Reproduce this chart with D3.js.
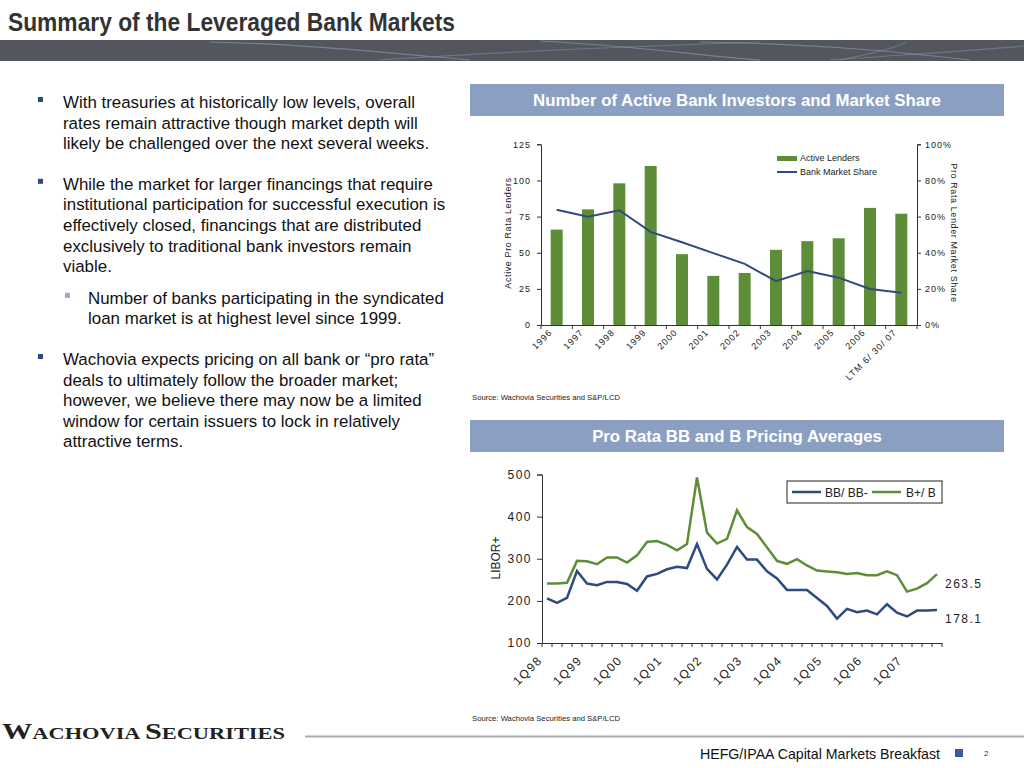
<!DOCTYPE html>
<meta charset="utf-8">
<style>
body{margin:0;background:#fff;}
text{font-family:Arial,"Liberation Sans",sans-serif;}
.bul{font-size:16.9px;fill:#111;}
.tick text{font-size:9px;fill:#222;letter-spacing:1px;}
.lc .tick text{font-size:12px;letter-spacing:1.5px;}
.domain,.tick line{stroke:#333;}
.banner{font-size:16.8px;font-weight:bold;fill:#fff;text-anchor:middle;}
.src{font-size:8px;fill:#222;}
</style>
<body>
<script src="https://d3js.org/d3.v7.min.js"></script>
<script>

// bank investors chart
var years=["1996","1997","1998","1999","2000","2001","2002","2003","2004","2005","2006","LTM 6/ 30/ 07"];
var lenders=[66,80,98,110,49,34,36,52,58,60,81,77];
var share=[0.638,0.599,0.635,0.515,0.458,0.398,0.338,0.243,0.299,0.262,0.199,0.179];

// pricing chart
var quarters=[];
["98","99","00","01","02","03","04","05","06","07"].forEach(function(y){
	[1,2,3,4].forEach(function(q){ quarters.push(q+"Q"+y); });
});
var bbSeries=[206,195,207,271,241,237,245,245,240,224,258,264,275,281,278,335,276,251,286,328,298,298,270,253,226,226,226,207,188,158,181,173,177,168,192,172,163,177,177,178.1];
var bSeries=[241,241,243,295,294,287,303,303,291,308,340,342,333,320,335,493,362,336,347,415,375,359,327,295,288,299,284,272,270,268,264,266,261,261,270,261,222,229,242,263.5];

var bulletLines=[
	{t:"With treasuries at historically low levels, overall",b:1},
	{t:"rates remain attractive though market depth will"},
	{t:"likely be challenged over the next several weeks."},
	{t:"While the market for larger financings that require",b:1,gap:20},
	{t:"institutional participation for successful execution is"},
	{t:"effectively closed, financings that are distributed"},
	{t:"exclusively to traditional bank investors remain"},
	{t:"viable."},
	{t:"Number of banks participating in the syndicated",b:2,gap:11,sub:1},
	{t:"loan market is at highest level since 1999.",sub:1},
	{t:"Wachovia expects pricing on all bank or \u201cpro rata\u201d",b:1,gap:20},
	{t:"deals to ultimately follow the broader market;"},
	{t:"however, we believe there may now be a limited"},
	{t:"window for certain issuers to lock in relatively"},
	{t:"attractive terms."}
];

var svg=d3.select("body").append("svg").attr("width",1024).attr("height",768);

// header
svg.append("text").attr("x",8).attr("y",31).text("Summary of the Leveraged Bank Markets")
	.attr("textLength",447).attr("lengthAdjust","spacingAndGlyphs")
	.style("font-weight","bold").style("font-size","25px").style("fill","#333");
svg.append("rect").attr("x",0).attr("y",40).attr("width",1024).attr("height",21).attr("fill","#53565d");
[["M210,42 C300,44 380,52 470,60","#8fa6c0"],["M380,60 C500,52 640,46 760,42","#7d92ad"],["M540,41 C640,46 700,56 760,60","#8fa6c0"],
 ["M840,60 C880,52 900,46 906,42","#7d92ad"],["M700,42 C820,44 900,52 970,60","#8fa6c0"],["M830,60 C900,55 980,50 1024,46","#7d92ad"]]
	.forEach(function(p){ svg.append("path").attr("d",p[0]).attr("fill","none").attr("stroke",p[1]).attr("stroke-opacity",0.55).attr("stroke-width",1.2); });

// bullets
var by=108;
bulletLines.forEach(function(l){
	if(l.gap) by+=l.gap;
	var x=l.sub?88:63;
	if(l.b==1) svg.append("rect").attr("x",38).attr("y",by-11).attr("width",5).attr("height",5).attr("fill","#2e4a7e");
	if(l.b==2) svg.append("rect").attr("x",65).attr("y",by-11).attr("width",5).attr("height",5).attr("fill","#9aa9c4");
	svg.append("text").attr("class","bul").attr("x",x).attr("y",by).text(l.t);
	by+=20.6;
});

// banners
function banner(y,t){
	svg.append("rect").attr("x",470).attr("y",y).attr("width",534).attr("height",32).attr("fill","#8b9fc2");
	svg.append("text").attr("class","banner").attr("x",737).attr("y",y+22).text(t);
}
banner(84,"Number of Active Bank Investors and Market Share");
banner(420,"Pro Rata BB and B Pricing Averages");

// bar chart
var g1=svg.append("g");
var xb=d3.scaleBand().domain(years).range([541,917]);
var y1=d3.scaleLinear().domain([0,125]).range([325,144.3]);
var y1r=d3.scaleLinear().domain([0,1]).range([325,144.3]);

g1.selectAll("rect.bar").data(lenders).join("rect").attr("class","bar")
	.attr("x",(d,i)=>xb(years[i])+xb.bandwidth()/2-6).attr("width",12)
	.attr("y",d=>y1(d)).attr("height",d=>y1(0)-y1(d)).attr("fill","#5e8d37");

g1.append("path").datum(share).attr("fill","none").attr("stroke","#2f4a7e").attr("stroke-width",2)
	.attr("d",d3.line().x((d,i)=>xb(years[i])+xb.bandwidth()/2).y(d=>y1r(d)));

g1.append("g").attr("transform","translate(541,0)").call(d3.axisLeft(y1).tickValues([0,25,50,75,100,125]).tickSize(4).tickPadding(6));
g1.append("g").attr("transform","translate(917,0)").call(d3.axisRight(y1r).tickValues([0,0.2,0.4,0.6,0.8,1]).tickFormat(d3.format(".0%")).tickSize(4).tickPadding(4));
var xa1=g1.append("g").attr("transform","translate(0,325)")
	.call(d3.axisBottom(xb).tickSize(0).tickFormat(""));
xa1.selectAll(".bt").data(d3.range(years.length+1)).join("line").attr("class","bt")
	.attr("x1",i=>541+i*xb.step()).attr("x2",i=>541+i*xb.step()).attr("y1",0).attr("y2",4).attr("stroke","#333");
xa1.selectAll(".bl").data(years).join("text").attr("class","bl")
	.attr("transform",d=>"translate("+(xb(d)+xb.bandwidth()/2-4)+",8) rotate(-45)")
	.attr("text-anchor","end").style("font-size","9px").style("letter-spacing","1px").attr("fill","#222").text(d=>d);

g1.append("text").attr("transform","translate(511,233) rotate(-90)").attr("text-anchor","middle")
	.style("font-size","9px").style("letter-spacing","0.6px").attr("fill","#222").text("Active Pro Rata Lenders");
g1.append("text").attr("transform","translate(951,233) rotate(90)").attr("text-anchor","middle")
	.style("font-size","9px").style("letter-spacing","0.6px").attr("fill","#222").text("Pro Rata Lender Market Share");

g1.append("rect").attr("x",777).attr("y",156).attr("width",20).attr("height",5).attr("fill","#5e8d37");
g1.append("text").attr("x",800).attr("y",161).style("font-size","9px").attr("fill","#222").text("Active Lenders");
g1.append("line").attr("x1",777).attr("x2",797).attr("y1",172).attr("y2",172).attr("stroke","#2f4a7e").attr("stroke-width",2);
g1.append("text").attr("x",800).attr("y",175).style("font-size","9px").attr("fill","#222").text("Bank Market Share");

svg.append("text").attr("class","src").attr("x",472).attr("y",400).attr("textLength",148).attr("lengthAdjust","spacingAndGlyphs").text("Source: Wachovia Securities and S&P/LCD");

// line chart
var g2=svg.append("g").attr("class","lc");
var x2=d3.scaleBand().domain(quarters).range([542,942]);
var y2=d3.scaleLinear().domain([100,500]).range([643,474.5]);
var cx=(d,i)=>x2(quarters[i])+x2.bandwidth()/2;

g2.append("g").attr("transform","translate(542,0)").call(d3.axisLeft(y2).tickValues([100,200,300,400,500]).tickSize(5).tickPadding(5));
var xa2=g2.append("g").attr("transform","translate(0,643)").call(d3.axisBottom(x2).tickSize(0).tickFormat(""));
xa2.selectAll(".qt").data(d3.range(quarters.length+1)).join("line").attr("class","qt")
	.attr("x1",i=>542+i*x2.step()).attr("x2",i=>542+i*x2.step()).attr("y1",0).attr("y2",4).attr("stroke","#333");
xa2.selectAll(".ql").data(quarters.filter(q=>q[0]=="1")).join("text").attr("class","ql")
	.attr("transform",d=>"translate("+(x2(d)+x2.bandwidth()/2-4)+",18) rotate(-45)")
	.attr("text-anchor","end").style("font-size","12px").style("letter-spacing","1.5px").attr("fill","#222").text(d=>d);

var ln=d3.line().x(cx).y(d=>y2(d));
g2.append("path").datum(bSeries).attr("fill","none").attr("stroke","#5e8d37").attr("stroke-width",2.5).attr("d",ln);
g2.append("path").datum(bbSeries).attr("fill","none").attr("stroke","#2f4a7e").attr("stroke-width",2.5).attr("d",ln);

g2.append("text").attr("x",945).attr("y",y2(bSeries[39])+14).style("font-size","12px").style("letter-spacing","1.5px").attr("fill","#222").text(bSeries[39]);
g2.append("text").attr("x",945).attr("y",y2(bbSeries[39])+13).style("font-size","12px").style("letter-spacing","1.5px").attr("fill","#222").text(bbSeries[39]);

g2.append("text").attr("transform","translate(500,558) rotate(-90)").attr("text-anchor","middle")
	.style("font-size","12px").attr("fill","#222").text("LIBOR+");

g2.append("rect").attr("x",787).attr("y",481).attr("width",155).attr("height",22).attr("fill","#fff").attr("stroke","#222");
g2.append("line").attr("x1",792).attr("x2",821).attr("y1",492).attr("y2",492).attr("stroke","#2f4a7e").attr("stroke-width",2.5);
g2.append("text").attr("x",825).attr("y",496.5).style("font-size","12px").attr("fill","#222").text("BB/ BB-");
g2.append("line").attr("x1",872).attr("x2",901).attr("y1",492).attr("y2",492).attr("stroke","#5e8d37").attr("stroke-width",2.5);
g2.append("text").attr("x",906).attr("y",496.5).style("font-size","12px").attr("fill","#222").text("B+/ B");

svg.append("text").attr("class","src").attr("x",472).attr("y",721).attr("textLength",148).attr("lengthAdjust","spacingAndGlyphs").text("Source: Wachovia Securities and S&P/LCD");

// footer
var logo=svg.append("text").attr("x",2).attr("y",739).attr("textLength",283).attr("lengthAdjust","spacingAndGlyphs")
	.style("font-family","'Liberation Serif',serif").style("font-weight","bold").style("fill","#222");
logo.append("tspan").style("font-size","23px").text("W");
logo.append("tspan").style("font-size","17px").text("ACHOVIA ");
logo.append("tspan").style("font-size","23px").text("S");
logo.append("tspan").style("font-size","17px").text("ECURITIES");
svg.append("line").attr("x1",305).attr("x2",1024).attr("y1",736.5).attr("y2",736.5).attr("stroke","#aaa").attr("stroke-width",2);
svg.append("text").attr("x",700).attr("y",759).attr("textLength",240).attr("lengthAdjust","spacingAndGlyphs")
	.style("font-size","15px").style("fill","#111").text("HEFG/IPAA Capital Markets Breakfast");
svg.append("rect").attr("x",955).attr("y",749).attr("width",8).attr("height",8).attr("fill","#3b5b9c");
svg.append("text").attr("x",984).attr("y",756).style("font-size","8px").style("fill","#333").text("2");

</script>
</body>
